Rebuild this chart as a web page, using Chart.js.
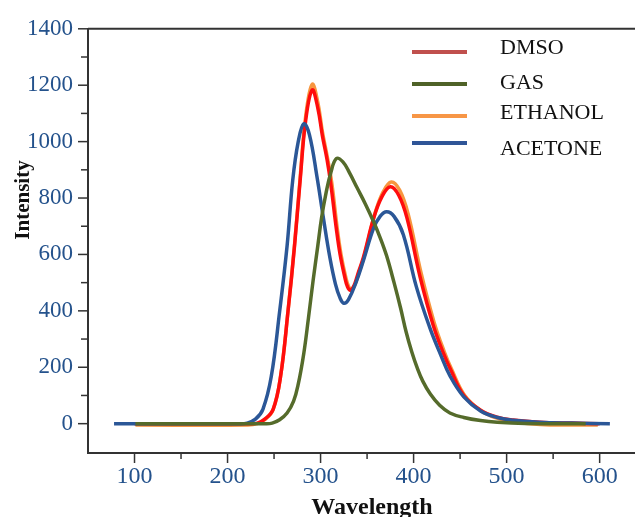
<!DOCTYPE html>
<html>
<head>
<meta charset="utf-8">
<script src="https://cdn.jsdelivr.net/npm/chart.js@4.4.1/dist/chart.umd.min.js"></script>
<style>
  body { margin: 0; background: #fff; }
  canvas { display: block; }
</style>
</head>
<body>
<canvas id="myChart" width="635" height="517"></canvas>
<script>
// valores
const nombres = ['DMSO', 'GAS', 'ETHANOL', 'ACETONE'];

const dmsoX = [100, 222, 232, 240, 249, 257, 265, 272, 278, 284, 291, 297, 302, 307, 311, 317, 321, 326, 329, 332, 336, 340, 346, 357, 366, 375, 384, 393, 407, 421, 432, 440, 454, 472, 490, 507, 535, 570, 600];
const dmsoY = [0, 0, 2, 16, 51, 167, 398, 630, 861, 1075, 1183, 1120, 1020, 936, 850, 690, 600, 520, 485, 473, 490, 530, 589, 728, 805, 840, 810, 728, 520, 350, 250, 190, 100, 48, 23, 13, 5, 2, 0];

const gasX = [101, 240, 248, 256, 264, 271, 276, 282, 287, 292, 297, 301, 306, 311, 317, 324, 331, 339, 348, 357, 364, 371, 379, 386, 392, 398, 404, 410, 418, 428, 439, 454, 472, 490, 520, 585];
const gasY = [0, 0, 2, 14, 38, 80, 140, 250, 375, 508, 630, 728, 820, 890, 940, 928, 890, 838, 780, 716, 660, 595, 500, 410, 325, 255, 197, 150, 105, 65, 38, 22, 11, 5, 1, 0];

const etanolX = [101, 222, 232, 240, 249, 257, 265, 272, 278, 284, 291, 297, 302, 307, 312, 318, 322, 327, 330, 333, 337, 341, 347, 358, 367, 376, 385, 394, 408, 422, 433, 441, 455, 473, 491, 508, 536, 570, 598];
const etanolY = [-5, -5, 0, 14, 50, 168, 400, 635, 870, 1090, 1203, 1140, 1035, 950, 855, 690, 600, 520, 487, 476, 493, 533, 595, 740, 820, 857, 828, 745, 535, 360, 255, 192, 100, 45, 18, 6, -3, -5, -5];

const acetonaX = [78, 210, 221, 230, 238, 247, 256, 264, 270, 276, 282, 288, 296, 303, 310, 316, 321, 325, 330, 338, 346, 357, 364, 371, 379, 389, 403, 418, 429, 439, 454, 472, 490, 507, 535, 570, 611];
const acetonaY = [0, 0, 2, 16, 51, 167, 398, 630, 861, 1000, 1063, 1025, 878, 730, 589, 495, 445, 427, 440, 500, 578, 693, 735, 751, 735, 670, 485, 335, 245, 170, 95, 45, 22, 12, 5, 2, 0];

const ticksX = [100, 200, 300, 400, 500, 600];
const ticksY = [0, 200, 400, 600, 800, 1000, 1200, 1400];

const coloresLinea = ['#ff0d0d', '#556b2b', '#f7963f', '#2b5797'];
const coloresLeyenda = ['#c0504d', '#4f6228', '#f79646', '#2f5597'];

function puntos(xs, ys) {
    let res = [];
    for (let i = 0; i < xs.length; i++) {
        res.push({ x: xs[i], y: ys[i] });
    }
    return res;
}

function serie(label, xs, ys, color) {
    return {
        label: label,
        data: puntos(xs, ys),
        borderColor: color,
        borderWidth: 3.5,
        pointRadius: 0,
        fill: false,
        tension: 0.4
    };
}

const fuenteTicks = 'Liberation Serif, Times New Roman, serif';

// dibuja marcas de ejes, borde superior, leyenda y titulos
const extras = {
    id: 'extras',
    afterDraw(chart) {
        const ctx = chart.ctx;
        const area = chart.chartArea;
        const sx = chart.scales.x;
        const sy = chart.scales.y;
        ctx.save();
        ctx.strokeStyle = '#333';
        ctx.lineWidth = 2;
        ctx.beginPath();
        ctx.moveTo(area.left, area.top);
        ctx.lineTo(area.right, area.top);
        ctx.stroke();
        ctx.lineWidth = 1.5;
        for (let v = 0; v <= 1400; v += 100) {
            let py = sy.getPixelForValue(v);
            let largo = v % 200 === 0 ? 10 : 7;
            ctx.beginPath();
            ctx.moveTo(area.left - largo, py);
            ctx.lineTo(area.left, py);
            ctx.stroke();
        }
        for (let v = 100; v <= 600; v += 50) {
            let px = sx.getPixelForValue(v);
            let largo = v % 100 === 0 ? 10 : 6;
            ctx.beginPath();
            ctx.moveTo(px, area.bottom);
            ctx.lineTo(px, area.bottom + largo);
            ctx.stroke();
        }

        // leyenda
        const lineasY = [52, 84, 116, 143];
        const textosY = [54, 89, 119, 155];
        ctx.lineWidth = 4;
        ctx.font = '22px ' + fuenteTicks;
        ctx.textAlign = 'left';
        ctx.textBaseline = 'alphabetic';
        for (let i = 0; i < nombres.length; i++) {
            ctx.strokeStyle = coloresLeyenda[i];
            ctx.beginPath();
            ctx.moveTo(412, lineasY[i]);
            ctx.lineTo(467, lineasY[i]);
            ctx.stroke();
            ctx.fillStyle = '#111';
            ctx.fillText(nombres[i], 500, textosY[i]);
        }

        // titulos
        ctx.fillStyle = '#111';
        ctx.textAlign = 'center';
        ctx.font = 'bold 24px ' + fuenteTicks;
        ctx.fillText('Wavelength', 372, 514);
        ctx.translate(29, 200);
        ctx.rotate(-Math.PI / 2);
        ctx.font = 'bold 21px ' + fuenteTicks;
        ctx.fillText('Intensity', 0, 0);
        ctx.restore();
    }
};

const config = {
    type: 'line',
    data: {
        datasets: [
            serie(nombres[1], gasX, gasY, coloresLinea[1]),
            serie(nombres[3], acetonaX, acetonaY, coloresLinea[3]),
            serie(nombres[0], dmsoX, dmsoY, coloresLinea[0]),
            serie(nombres[2], etanolX, etanolY, coloresLinea[2])
        ]
    },
    options: {
        responsive: false,
        animation: false,
        layout: { padding: { top: 20, right: 0, left: 0, bottom: 0 } },
        plugins: {
            legend: { display: false },
            tooltip: { enabled: false }
        },
        scales: {
            x: {
                type: 'linear',
                min: 50,
                max: 638,
                grid: { display: false, drawTicks: false },
                border: { display: true, color: '#333', width: 2 },
                ticks: {
                    stepSize: 100,
                    padding: 9,
                    color: '#24528c',
                    font: { family: fuenteTicks, size: 24 },
                    callback: v => String(v)
                },
                afterBuildTicks: function (scale) {
                    scale.ticks = ticksX.map(v => ({ value: v }));
                },
                afterFit: function (scale) {
                    scale.height = 64;
                }
            },
            y: {
                min: -104,
                max: 1400,
                grid: { display: false, drawTicks: false },
                border: { display: true, color: '#333', width: 2 },
                ticks: {
                    stepSize: 200,
                    padding: 15,
                    color: '#24528c',
                    font: { family: fuenteTicks, size: 23 },
                    callback: v => String(v)
                },
                afterBuildTicks: function (scale) {
                    scale.ticks = ticksY.map(v => ({ value: v }));
                },
                afterFit: function (scale) {
                    scale.width = 88;
                }
            }
        }
    },
    plugins: [extras]
};

const myChart = new Chart(document.getElementById('myChart'), config);
</script>
</body>
</html>
